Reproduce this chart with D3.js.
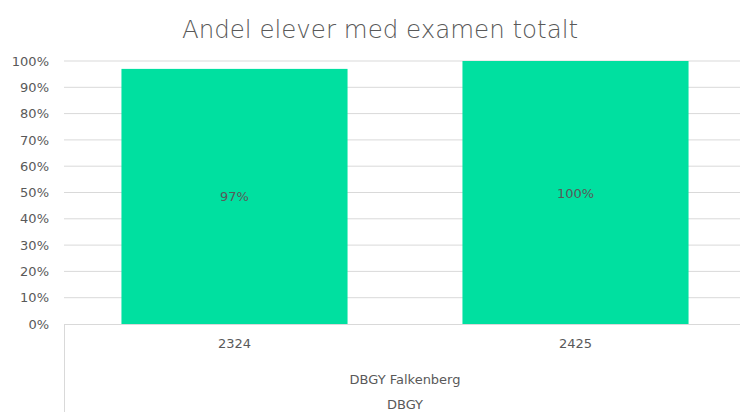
<!DOCTYPE html>
<html>
<head>
<meta charset="utf-8">
<script src="https://cdn.jsdelivr.net/npm/d3@7"></script>
<style>
  body { margin: 0; background: #fff; }
  text { font-family: "Century Gothic", "DejaVu Sans", sans-serif; fill: #595959; }
</style>
</head>
<body>
<svg id="chart" width="740" height="412"></svg>
<script>
// Chart data
const categories = ["2324", "2425"];
const values = [0.97, 1.0];
const valueLabels = ["97%", "100%"];
const yTicks = [0, 0.1, 0.2, 0.3, 0.4, 0.5, 0.6, 0.7, 0.8, 0.9, 1.0];
const groupLabel = "DBGY Falkenberg";
const outerLabel = "DBGY";
const title = "Andel elever med examen totalt";

const fontStack = "\"Century Gothic\", \"DejaVu Sans\", sans-serif";

// Layout
let margin = { top: 61, left: 64, right: -6, bottom: 88 },
    width = 740 - margin.left - margin.right,
    height = 412 - margin.top - margin.bottom;

let svg = d3.select("#chart");

// Title
svg.append("text")
    .attr("x", 380)
    .attr("y", 38)
    .attr("text-anchor", "middle")
    .style("font-size", "24.5px")
    .style("font-weight", "200")
    .text(title);

let g = svg.append("g")
    .attr("transform", "translate(" + margin.left + "," + margin.top + ")");

let x = d3.scaleBand()
    .domain(categories)
    .range([0, width])
    .paddingInner(0.337)
    .paddingOuter(0.1685);

let y = d3.scaleLinear()
    .domain([0, 1])
    .range([height, 0]);

// Gridlines
g.selectAll(".grid")
    .data(yTicks.slice(1))
    .enter()
    .append("line")
    .attr("x1", 0)
    .attr("x2", width)
    .attr("y1", d => y(d))
    .attr("y2", d => y(d))
    .attr("stroke", "#d9d9d9")
    .attr("stroke-width", 1);

// Y axis labels
let yAxis = d3.axisLeft(y)
    .tickValues(yTicks)
    .tickFormat(d3.format(".0%"))
    .tickSize(0)
    .tickPadding(15);
let ya = g.append("g").call(yAxis);
ya.select(".domain").remove();
ya.selectAll("text")
    .style("font-size", "13px")
    .style("fill", "#595959")
    .style("font-family", fontStack);

// Bars
g.selectAll(".bar")
    .data(values)
    .enter()
    .append("rect")
    .attr("x", (d, i) => x(categories[i]))
    .attr("y", d => y(d))
    .attr("width", x.bandwidth())
    .attr("height", d => height - y(d))
    .attr("fill", "#00e0a0");

// Data labels
g.selectAll(".label")
    .data(values)
    .enter()
    .append("text")
    .attr("x", (d, i) => x(categories[i]) + x.bandwidth() / 2)
    .attr("y", d => (y(d) + height) / 2 + 5)
    .attr("text-anchor", "middle")
    .style("font-size", "13px")
    .text((d, i) => valueLabels[i]);

// Bottom axis line and left box line
g.append("line")
    .attr("x1", 0).attr("x2", width)
    .attr("y1", height + 0.5).attr("y2", height + 0.5)
    .attr("stroke", "#d9d9d9");
g.append("line")
    .attr("x1", 0.5).attr("x2", 0.5)
    .attr("y1", height).attr("y2", height + margin.bottom)
    .attr("stroke", "#d9d9d9");

// Category labels
g.selectAll(".cat")
    .data(categories)
    .enter()
    .append("text")
    .attr("x", d => x(d) + x.bandwidth() / 2)
    .attr("y", height + 24)
    .attr("text-anchor", "middle")
    .style("font-size", "13px")
    .text(d => d);

g.append("text")
    .attr("x", width / 2)
    .attr("y", height + 60)
    .attr("text-anchor", "middle")
    .style("font-size", "13px")
    .text(groupLabel);

g.append("text")
    .attr("x", width / 2)
    .attr("y", height + 85)
    .attr("text-anchor", "middle")
    .style("font-size", "13px")
    .text(outerLabel);
</script>
</body>
</html>
